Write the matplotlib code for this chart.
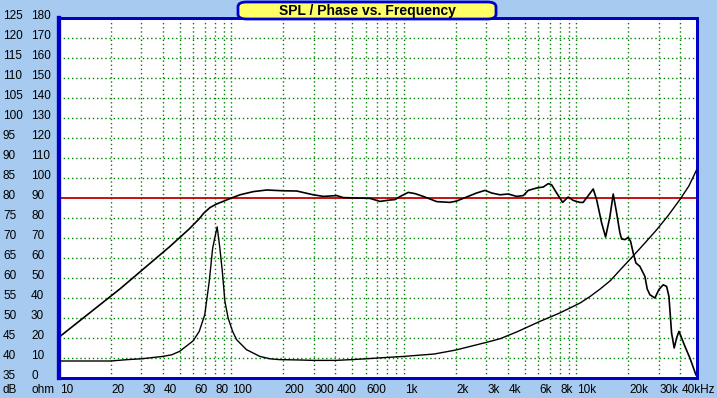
import matplotlib
matplotlib.use("Agg")
import matplotlib.pyplot as plt
import matplotlib.transforms as mtransforms
from matplotlib.patches import FancyBboxPatch

plt.rcParams['font.family'] = ['Liberation Sans', 'DejaVu Sans']

# ---------------- data ----------------
title = "SPL / Phase vs. Frequency"

spl_freq = [10, 22.6, 44, 57, 65, 69, 75, 82, 100, 112, 134, 160, 200, 239, 298, 341,
            407, 445, 532, 635, 695, 726, 830, 886, 952, 1059, 1158, 1294, 1415, 1548,
            1848, 2022, 2308, 2638, 2949, 3224, 3603, 4025, 4500, 4918, 5258, 5877,
            6425, 6868, 7180, 7676, 8318, 8958, 9575, 10480, 10940, 12510, 13090,
            14000, 14760, 15640, 16340, 17100, 17870, 18280, 19100, 19970, 20610,
            21340, 22120, 23330, 24940, 25720, 26670, 28510, 30060, 31840, 33320,
            34370, 35610, 36880, 38080, 39290, 40730, 42560, 45480, 49270]
spl_db = [45.2, 57.3, 67.9, 72.3, 74.8, 76.2, 77.6, 78.5, 80.0, 80.8, 81.6, 82.0, 81.8,
          81.75, 80.8, 80.4, 80.6, 80.1, 80.0, 79.9, 79.4, 79.15, 79.5, 79.6, 80.4,
          81.4, 81.1, 80.4, 79.75, 79.1, 78.9, 79.25, 80.25, 81.25, 81.9, 81.25, 80.8,
          81.0, 80.4, 80.6, 81.9, 82.5, 82.75, 83.6, 83.3, 81.25, 78.9, 80.25, 79.4,
          78.9, 78.9, 82.25, 79.6, 73.75, 70.25, 75.4, 81.0, 76.25, 71.25, 69.75,
          69.6, 70.15, 69.15, 66.25, 63.75, 62.9, 60.4, 57.25, 55.8, 55.0, 57.1, 58.3,
          57.9, 55.4, 46.25, 42.5, 45.0, 46.65, 45.0, 42.9, 40.0, 35.8]

imp_freq = [10, 20, 25, 30, 40, 45, 50, 60, 65, 70, 74.3, 77.8, 82.6, 85.6, 88.5, 91.6,
            95.6, 101.5, 107, 122, 146, 167, 189, 250, 300, 400, 500, 600, 800, 1000,
            1500, 2000, 3000, 3600, 4500, 6100, 8000, 9170, 10500, 11970, 13720, 15740,
            17900, 21300, 24940, 29100, 33880, 40000, 44870, 49700]
imp_ohm = [8.5, 8.5, 9.2, 9.6, 10.8, 11.6, 13.3, 18.6, 23.3, 31.6, 48.3, 65.0, 75.6,
           65.0, 53.3, 38.3, 30.0, 23.3, 19.2, 14.2, 10.8, 9.6, 9.2, 9.0, 8.8, 8.8,
           9.2, 9.6, 10.3, 10.8, 12.0, 14.0, 17.8, 19.6, 23.0, 28.2, 32.5, 35.0, 37.5,
           40.7, 44.5, 48.7, 54.0, 61.0, 67.5, 74.0, 81.0, 89.5, 96.0, 104.0]

db_ticks = [35, 40, 45, 50, 55, 60, 65, 70, 75, 80, 85, 90, 95, 100, 105, 110, 115, 120, 125]
ohm_ticks = [0, 10, 20, 30, 40, 50, 60, 70, 80, 90, 100, 110, 120, 130, 140, 150, 160, 170, 180]
x_label_freqs = [10, 20, 30, 40, 60, 80, 100, 200, 300, 400, 600, 1000, 2000, 3000,
                 4000, 6000, 8000, 10000, 20000, 30000, 40000]
x_label_texts = ["10", "20", "30", "40", "60", "80", "100", "200", "300", "400", "600",
                 "1k", "2k", "3k", "4k", "6k", "8k", "10k", "20k", "30k", "40kHz"]

# ---------------- figure ----------------
W, H = 717, 398
bg = '#A6CAF0'
fig = plt.figure(figsize=(W / 100, H / 100), dpi=100, facecolor=bg)
L, R, T, B = 59, 697, 18, 378
ax = fig.add_axes([L / W, 1 - B / H, (R - L) / W, (B - T) / H])
ax.set_facecolor('white')
ax.set_xscale('log')
ax.set_xlim(10, 50000)
ax.set_ylim(35, 125)

grid_col = '#008000'
dot = (0, (1, 2))
grid_freqs = [m * 10 ** d for d in range(1, 5) for m in range(1, 10)
              if 10 < m * 10 ** d < 50000]
for f in grid_freqs:
    ax.axvline(f, color=grid_col, lw=1.0, ls=dot, zorder=1)
for v in db_ticks[1:-1]:
    if v == 80:
        ax.axhline(v, color='#C00000', lw=1.3, zorder=2)
    else:
        ax.axhline(v, color=grid_col, lw=1.0, ls=dot, zorder=1)

ax.plot(spl_freq, spl_db, color='black', lw=1.2, zorder=4)

ax2 = ax.twinx()
ax2.set_ylim(0, 180)
ax2.plot(imp_freq, imp_ohm, color='black', lw=1.0, zorder=4)
for a in (ax, ax2):
    a.set_xticks([])
    a.set_xticks([], minor=True)
    a.set_yticks([])
    a.set_yticks([], minor=True)
    for s in a.spines.values():
        s.set_color('#0000C8')
        s.set_linewidth(2)
ax.spines['left'].set_linewidth(3)
ax2.spines['left'].set_linewidth(3)

# y labels (slightly above their grid lines, as in the reference)
fs = 8.5
tr_y = mtransforms.offset_copy(
    mtransforms.blended_transform_factory(fig.transFigure, ax.transData),
    fig=fig, x=0, y=2, units='dots')
for d, o in zip(db_ticks, ohm_ticks):
    fig.text(3 / W, d, str(d), transform=tr_y, ha='left', va='center', fontsize=fs, color='black')
    fig.text(31 / W, d, str(o), transform=tr_y, ha='left', va='center', fontsize=fs, color='black')
fig.text(3 / W, 1 - 390 / H, "dB", ha='left', va='center', fontsize=fs)
fig.text(31 / W, 1 - 390 / H, "ohm", ha='left', va='center', fontsize=fs)

# x labels
tr_x = mtransforms.offset_copy(
    mtransforms.blended_transform_factory(ax.transData, fig.transFigure),
    fig=fig, x=1, y=0, units='dots')
for f, t in zip(x_label_freqs, x_label_texts):
    ax.text(f, 1 - 390 / H, t, transform=tr_x, ha='left', va='center', fontsize=fs,
            clip_on=False)

# title box
bx0, bx1, by0, by1 = 238, 496, 2, 19
box = FancyBboxPatch((bx0 / W, 1 - by1 / H), (bx1 - bx0) / W, (by1 - by0) / H,
                     boxstyle="round,pad=0,rounding_size=0.012",
                     transform=fig.transFigure, facecolor='#FFFF66',
                     edgecolor='#0000C8', lw=2, zorder=10)
fig.patches.append(box)
fig.text((bx0 + bx1) / 2 / W, 1 - 10.5 / H, title, ha='center', va='center',
         fontsize=10, fontweight='bold', color='black', zorder=11)

fig.savefig('out.png', dpi=100, facecolor=bg)
